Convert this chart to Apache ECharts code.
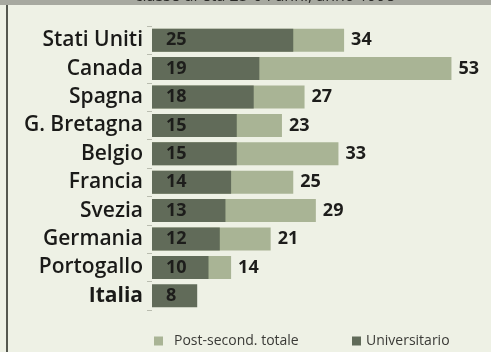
<!DOCTYPE html>
<html>
<head>
<meta charset="utf-8">
<script src="https://cdn.jsdelivr.net/npm/echarts@6/dist/echarts.min.js"></script>
<style>
  html, body { margin: 0; padding: 0; background: #eef1e5; }
  #chart { width: 491px; height: 352px; }
</style>
</head>
<body>
<div id="chart"></div>
<script>
// Paesi, dall'alto verso il basso
const countries = ['Stati Uniti', 'Canada', 'Spagna', 'G. Bretagna', 'Belgio', 'Francia', 'Svezia', 'Germania', 'Portogallo', 'Italia'];
// Istruzione post-secondaria totale (%)
const postSecondTotale = [34, 53, 27, 23, 33, 25, 29, 21, 14, null];
// Istruzione universitaria (%)
const universitario = [25, 19, 18, 15, 15, 14, 13, 12, 10, 8];
const seriesNames = ['Post-second. totale', 'Universitario'];

const FONT = 'Open Sans';
const chart = echarts.init(document.getElementById('chart'), null, { renderer: 'canvas' });

chart.setOption({
  backgroundColor: '#eef1e5',
  animation: false,
  grid: { left: 152, right: 0, top: 26, bottom: 42 },
  xAxis: { type: 'value', min: 0, max: 60, show: false },
  yAxis: {
    type: 'category',
    data: countries,
    inverse: true,
    axisLine: { show: false },
    axisTick: { show: true, length: 5, lineStyle: { color: '#b9bcaf', width: 1 } },
    axisLabel: {
      margin: 9,
      fontFamily: FONT,
      fontSize: 21,
      fontWeight: 600,
      color: '#1a1a18',
      formatter: v => v === 'Italia' ? '{b|' + v + '}' : v,
      rich: { b: { fontFamily: FONT, fontSize: 21, fontWeight: 'bold', color: '#1a1a18' } }
    },
    splitLine: { show: false }
  },
  legend: [
    {
      data: [seriesNames[0]], left: 154, top: 334, padding: 0,
      icon: 'rect', itemWidth: 9, itemHeight: 9,
      textStyle: { fontFamily: FONT, fontSize: 14, color: '#3a3a36', padding: [0, 0, 0, 6] }
    },
    {
      data: [seriesNames[1]], left: 352, top: 334, padding: 0,
      icon: 'rect', itemWidth: 9, itemHeight: 9,
      textStyle: { fontFamily: FONT, fontSize: 14, color: '#3a3a36' }
    }
  ],
  series: [
    {
      name: seriesNames[0],
      type: 'bar',
      data: postSecondTotale,
      barWidth: 23,
      itemStyle: { color: '#a9b495' },
      label: {
        show: true, position: 'right', distance: 7,
        fontFamily: FONT, fontSize: 18, fontWeight: 'bold', color: '#1d1d1b'
      }
    },
    {
      name: seriesNames[1],
      type: 'bar',
      data: universitario,
      barWidth: 23,
      barGap: '-100%',
      itemStyle: { color: '#616b59' },
      label: {
        show: true, position: 'insideLeft', distance: 14,
        fontFamily: FONT, fontSize: 18, fontWeight: 'bold', color: '#1d1d1b'
      }
    }
  ],
  graphic: [
    { type: 'rect', left: 0, top: 0, z: -1, shape: { width: 491, height: 5 }, style: { fill: '#a7a9a0' } },
    { type: 'rect', left: 6, top: 5, z: -1, shape: { width: 2, height: 347 }, style: { fill: '#55584f' } },
    {
      type: 'text', x: 265, y: 4, z: 1,
      style: {
        text: 'classe di età 25-64 anni, anno 1998',
        fill: '#2a2a27', font: '16px "Open Sans"',
        textAlign: 'center', textVerticalAlign: 'bottom'
      }
    }
  ]
});
</script>
</body>
</html>
